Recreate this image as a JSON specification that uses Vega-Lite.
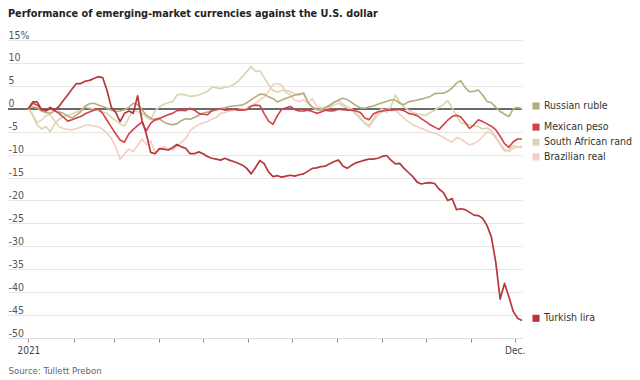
{
  "$schema": "https://vega.github.io/schema/vega-lite/v6.json",
  "width": 514,
  "height": 298,
  "autosize": {"type": "none"},
  "padding": {"left": 8, "top": 40, "right": 118, "bottom": 42},
  "background": "white",
  "title": {"text": "Performance of emerging-market currencies against the U.S. dollar", "anchor": "start", "frame": "group", "fontSize": 10.8, "fontWeight": "bold", "font": "DejaVu Sans Condensed, Lato, sans-serif", "color": "#222", "offset": 11},
  "config": {"view": {"stroke": null}, "font": "DejaVu Sans Condensed, Lato, sans-serif", "axisY": {"tickCount": 13}},
  "datasets": {
    "fx": [
      {"d": "2021-01-01", "ruble": 0, "peso": 0, "rand": 0, "real": 0, "lira": 0},
      {"d": "2021-01-04", "ruble": 0.4, "peso": 1.2, "rand": -1.5, "real": -1.2, "lira": 1.5},
      {"d": "2021-01-07", "ruble": 0.2, "peso": 0.8, "rand": -3.5, "real": -3, "lira": 1.5},
      {"d": "2021-01-10", "ruble": -0.5, "peso": 0, "rand": -4.4, "real": -2.5, "lira": -0.2},
      {"d": "2021-01-13", "ruble": -0.8, "peso": -0.5, "rand": -3.9, "real": -1.5, "lira": -0.3},
      {"d": "2021-01-16", "ruble": -1, "peso": 0, "rand": -5, "real": -1.3, "lira": 0.3},
      {"d": "2021-01-19", "ruble": -0.5, "peso": -0.4, "rand": -3.3, "real": -2.6, "lira": -0.3},
      {"d": "2021-01-22", "ruble": -0.7, "peso": -1, "rand": -2.3, "real": -3.9, "lira": 0.5},
      {"d": "2021-01-25", "ruble": -1, "peso": -1.8, "rand": -1.7, "real": -4.3, "lira": 1.8},
      {"d": "2021-01-28", "ruble": -1.6, "peso": -2.7, "rand": -1.4, "real": -4.5, "lira": 3},
      {"d": "2021-01-31", "ruble": -2, "peso": -2.4, "rand": -1.1, "real": -4.6, "lira": 4.3},
      {"d": "2021-02-03", "ruble": -1.4, "peso": -2, "rand": -0.7, "real": -4.3, "lira": 5.5},
      {"d": "2021-02-06", "ruble": -0.6, "peso": -1.7, "rand": -0.3, "real": -4, "lira": 5.5},
      {"d": "2021-02-09", "ruble": 0.6, "peso": -1.1, "rand": 0.4, "real": -3.6, "lira": 6},
      {"d": "2021-02-12", "ruble": 1.1, "peso": -0.7, "rand": 0.2, "real": -3.6, "lira": 6.2},
      {"d": "2021-02-15", "ruble": 1.2, "peso": -0.3, "rand": -0.1, "real": -3.8, "lira": 6.6},
      {"d": "2021-02-18", "ruble": 0.8, "peso": 0, "rand": -0.4, "real": -3.9, "lira": 7},
      {"d": "2021-02-21", "ruble": 0.5, "peso": -1, "rand": -0.7, "real": -4.5, "lira": 6.8},
      {"d": "2021-02-24", "ruble": 0.1, "peso": -2.5, "rand": -1, "real": -5.3, "lira": 4},
      {"d": "2021-02-27", "ruble": -0.3, "peso": -4, "rand": -1.8, "real": -6.5, "lira": 0.3},
      {"d": "2021-03-02", "ruble": -0.6, "peso": -5.5, "rand": -2.6, "real": -8.3, "lira": -0.8},
      {"d": "2021-03-05", "ruble": -0.5, "peso": -6.8, "rand": -3.3, "real": -11, "lira": -2.8},
      {"d": "2021-03-08", "ruble": -0.2, "peso": -7.3, "rand": -3.8, "real": -9.8, "lira": -1},
      {"d": "2021-03-11", "ruble": 0.3, "peso": -5.5, "rand": -2, "real": -8.8, "lira": -0.5},
      {"d": "2021-03-14", "ruble": 1.2, "peso": -4.5, "rand": -0.4, "real": -9.3, "lira": -1},
      {"d": "2021-03-17", "ruble": 0.9, "peso": -3.7, "rand": -0.6, "real": -8, "lira": 2.8},
      {"d": "2021-03-20", "ruble": -0.2, "peso": -2.9, "rand": -1, "real": -6.6, "lira": -2.5},
      {"d": "2021-03-23", "ruble": -1.4, "peso": -4.8, "rand": -1.8, "real": -7.8, "lira": -5.5},
      {"d": "2021-03-26", "ruble": -2, "peso": -3.2, "rand": -2.4, "real": -7, "lira": -9.5},
      {"d": "2021-03-29", "ruble": -2.6, "peso": -2.3, "rand": -0.4, "real": -9.5, "lira": -9.8},
      {"d": "2021-04-01", "ruble": -2.2, "peso": -2.1, "rand": 0.4, "real": -8.8, "lira": -8.7},
      {"d": "2021-04-04", "ruble": -2.9, "peso": -1.7, "rand": 1, "real": -8.3, "lira": -8.8},
      {"d": "2021-04-07", "ruble": -3.3, "peso": -1.3, "rand": 1.3, "real": -8.7, "lira": -9},
      {"d": "2021-04-10", "ruble": -3.5, "peso": -1, "rand": 1.5, "real": -9, "lira": -8.5},
      {"d": "2021-04-13", "ruble": -3.3, "peso": -0.4, "rand": 3, "real": -8.2, "lira": -7.8},
      {"d": "2021-04-16", "ruble": -2.6, "peso": -0.3, "rand": 3.2, "real": -7.3, "lira": -8.3},
      {"d": "2021-04-19", "ruble": -2.2, "peso": -0.4, "rand": 3, "real": -6.5, "lira": -8.6},
      {"d": "2021-04-22", "ruble": -2.3, "peso": 0.1, "rand": 2.7, "real": -4.8, "lira": -9.8},
      {"d": "2021-04-25", "ruble": -1.9, "peso": -0.3, "rand": 2.8, "real": -4, "lira": -9.8},
      {"d": "2021-04-28", "ruble": -1.4, "peso": -1, "rand": 3, "real": -3.5, "lira": -9.4},
      {"d": "2021-05-01", "ruble": -1, "peso": -1.2, "rand": 3.4, "real": -3.1, "lira": -9.8},
      {"d": "2021-05-04", "ruble": -0.7, "peso": -1.3, "rand": 3.8, "real": -2.8, "lira": -10.4},
      {"d": "2021-05-07", "ruble": -0.5, "peso": -0.4, "rand": 4.7, "real": -2.3, "lira": -10.8},
      {"d": "2021-05-10", "ruble": -0.3, "peso": -0.1, "rand": 4.6, "real": -1.9, "lira": -11},
      {"d": "2021-05-13", "ruble": 0, "peso": 0, "rand": 4.4, "real": -1, "lira": -11.2},
      {"d": "2021-05-16", "ruble": 0.2, "peso": -0.3, "rand": 4.7, "real": -0.8, "lira": -10.8},
      {"d": "2021-05-19", "ruble": 0.5, "peso": -0.2, "rand": 4.8, "real": -0.5, "lira": -11.2},
      {"d": "2021-05-22", "ruble": 0.6, "peso": -0.1, "rand": 5.3, "real": -0.3, "lira": -11.5},
      {"d": "2021-05-25", "ruble": 0.7, "peso": -0.3, "rand": 6, "real": -0.2, "lira": -11.9},
      {"d": "2021-05-28", "ruble": 0.8, "peso": -0.3, "rand": 7, "real": 0, "lira": -12.3},
      {"d": "2021-05-31", "ruble": 1.3, "peso": -0.2, "rand": 8.1, "real": 0.1, "lira": -13},
      {"d": "2021-06-03", "ruble": 2, "peso": 0.6, "rand": 9.2, "real": 0.6, "lira": -14.2},
      {"d": "2021-06-06", "ruble": 2.6, "peso": 0.8, "rand": 8.1, "real": 1.2, "lira": -12.8},
      {"d": "2021-06-09", "ruble": 3.2, "peso": 0.7, "rand": 8.3, "real": 1.9, "lira": -11.3},
      {"d": "2021-06-12", "ruble": 3.1, "peso": -1.1, "rand": 6.8, "real": 2.6, "lira": -12},
      {"d": "2021-06-15", "ruble": 2.6, "peso": -2.7, "rand": 5.2, "real": 3.8, "lira": -13.8},
      {"d": "2021-06-18", "ruble": 2.2, "peso": -3.4, "rand": 4, "real": 5.3, "lira": -14.8},
      {"d": "2021-06-21", "ruble": 1.5, "peso": -1.5, "rand": 3.6, "real": 5.5, "lira": -14.6},
      {"d": "2021-06-24", "ruble": 1.9, "peso": -0.1, "rand": 4, "real": 5.2, "lira": -14.9},
      {"d": "2021-06-27", "ruble": 2.3, "peso": 0.2, "rand": 4, "real": 3.5, "lira": -14.7},
      {"d": "2021-06-30", "ruble": 2.6, "peso": 0.5, "rand": 3.7, "real": 3, "lira": -14.5},
      {"d": "2021-07-03", "ruble": 3, "peso": -0.2, "rand": 3.2, "real": 1.8, "lira": -14.7},
      {"d": "2021-07-06", "ruble": 3.2, "peso": -0.5, "rand": 3, "real": 1.6, "lira": -14.4},
      {"d": "2021-07-09", "ruble": 3.4, "peso": -0.5, "rand": 3.4, "real": 1.9, "lira": -14.2},
      {"d": "2021-07-12", "ruble": 1.4, "peso": -0.3, "rand": 1.2, "real": 1.2, "lira": -13.6},
      {"d": "2021-07-15", "ruble": 0.4, "peso": -0.6, "rand": 0.3, "real": 2.2, "lira": -13},
      {"d": "2021-07-18", "ruble": -0.1, "peso": -1, "rand": -0.3, "real": 0.5, "lira": -12.9},
      {"d": "2021-07-21", "ruble": -0.3, "peso": -0.7, "rand": 0, "real": 0.3, "lira": -12.6},
      {"d": "2021-07-24", "ruble": 0.2, "peso": -0.3, "rand": 0.4, "real": 0.1, "lira": -12.5},
      {"d": "2021-07-27", "ruble": 0.7, "peso": -0.5, "rand": 0.9, "real": 0.3, "lira": -12},
      {"d": "2021-07-30", "ruble": 1.4, "peso": -0.4, "rand": 1.5, "real": 0.8, "lira": -11.5},
      {"d": "2021-08-02", "ruble": 1.9, "peso": -0.1, "rand": 1.8, "real": 1.2, "lira": -11.2},
      {"d": "2021-08-05", "ruble": 2.3, "peso": -0.2, "rand": 1, "real": 0.6, "lira": -12.5},
      {"d": "2021-08-08", "ruble": 2, "peso": -0.3, "rand": 0.4, "real": 0.2, "lira": -13},
      {"d": "2021-08-11", "ruble": 1.4, "peso": -0.3, "rand": 0, "real": -0.4, "lira": -12.3},
      {"d": "2021-08-14", "ruble": 0.7, "peso": -0.5, "rand": -1, "real": -1.2, "lira": -11.8},
      {"d": "2021-08-17", "ruble": 0.2, "peso": -0.8, "rand": -2, "real": -2.2, "lira": -11.5},
      {"d": "2021-08-20", "ruble": 0.1, "peso": -2, "rand": -3.2, "real": -3, "lira": -11.2},
      {"d": "2021-08-23", "ruble": 0.4, "peso": -2.4, "rand": -3.6, "real": -4, "lira": -11},
      {"d": "2021-08-26", "ruble": 0.6, "peso": -1.1, "rand": -2.2, "real": -2.5, "lira": -11},
      {"d": "2021-08-29", "ruble": 1, "peso": -0.7, "rand": -0.6, "real": -1.4, "lira": -10.8},
      {"d": "2021-09-01", "ruble": 1.3, "peso": -0.5, "rand": 0, "real": -0.7, "lira": -10.4},
      {"d": "2021-09-04", "ruble": 1.6, "peso": -0.3, "rand": -0.8, "real": -0.1, "lira": -10.2},
      {"d": "2021-09-07", "ruble": 1.9, "peso": -0.3, "rand": 0.5, "real": -0.4, "lira": -11.2},
      {"d": "2021-09-10", "ruble": 1.9, "peso": -0.2, "rand": 3, "real": -0.3, "lira": -12},
      {"d": "2021-09-13", "ruble": 1.2, "peso": -0.2, "rand": 1.5, "real": -1.2, "lira": -11.9},
      {"d": "2021-09-16", "ruble": 0.9, "peso": -0.4, "rand": 0.4, "real": -2.1, "lira": -13},
      {"d": "2021-09-19", "ruble": 1.5, "peso": -1, "rand": -0.3, "real": -2.8, "lira": -13.9},
      {"d": "2021-09-22", "ruble": 1.7, "peso": -1.2, "rand": -0.8, "real": -3.5, "lira": -14.8},
      {"d": "2021-09-25", "ruble": 1.9, "peso": -1.5, "rand": -1.1, "real": -3.9, "lira": -16},
      {"d": "2021-09-28", "ruble": 2.1, "peso": -2.2, "rand": -1.3, "real": -4.3, "lira": -16.4},
      {"d": "2021-10-01", "ruble": 2.4, "peso": -2.8, "rand": -1.4, "real": -4.7, "lira": -16.2},
      {"d": "2021-10-04", "ruble": 2.7, "peso": -3.5, "rand": -0.8, "real": -5.1, "lira": -16.1},
      {"d": "2021-10-07", "ruble": 3.3, "peso": -4, "rand": -0.3, "real": -5.3, "lira": -16.3},
      {"d": "2021-10-10", "ruble": 3.4, "peso": -4.5, "rand": 0.3, "real": -5.7, "lira": -17.5},
      {"d": "2021-10-13", "ruble": 3.4, "peso": -3.5, "rand": 0.9, "real": -6.2, "lira": -18.3},
      {"d": "2021-10-16", "ruble": 3.8, "peso": -2.5, "rand": 1.8, "real": -6.8, "lira": -20},
      {"d": "2021-10-19", "ruble": 4.5, "peso": -1.7, "rand": 0.2, "real": -7.3, "lira": -19.6},
      {"d": "2021-10-22", "ruble": 5.6, "peso": -1.4, "rand": -1.6, "real": -6.3, "lira": -22},
      {"d": "2021-10-25", "ruble": 6.1, "peso": -1.8, "rand": -3, "real": -6.6, "lira": -21.8},
      {"d": "2021-10-28", "ruble": 4.6, "peso": -3, "rand": -3.3, "real": -7.3, "lira": -22},
      {"d": "2021-10-31", "ruble": 3.7, "peso": -4.3, "rand": -3.5, "real": -7.9, "lira": -22.6},
      {"d": "2021-11-03", "ruble": 3.8, "peso": -3.5, "rand": -3.7, "real": -7.6, "lira": -23.2},
      {"d": "2021-11-06", "ruble": 4.1, "peso": -2.4, "rand": -3.9, "real": -7, "lira": -23.3},
      {"d": "2021-11-09", "ruble": 3, "peso": -2.8, "rand": -4.4, "real": -6.1, "lira": -23.9},
      {"d": "2021-11-12", "ruble": 1.6, "peso": -3.3, "rand": -4.2, "real": -5, "lira": -25.5},
      {"d": "2021-11-15", "ruble": 1.3, "peso": -3.8, "rand": -4.8, "real": -5.3, "lira": -28},
      {"d": "2021-11-18", "ruble": 0.3, "peso": -4.6, "rand": -6.1, "real": -6.4, "lira": -33.5},
      {"d": "2021-11-21", "ruble": -0.6, "peso": -6, "rand": -7.8, "real": -7.6, "lira": -41.5},
      {"d": "2021-11-24", "ruble": -1.2, "peso": -7.6, "rand": -9.2, "real": -8.8, "lira": -38.1},
      {"d": "2021-11-27", "ruble": -1.7, "peso": -8.4, "rand": -9, "real": -9.4, "lira": -41},
      {"d": "2021-11-30", "ruble": 0, "peso": -7.2, "rand": -8, "real": -8.6, "lira": -44.2},
      {"d": "2021-12-03", "ruble": 0.3, "peso": -6.6, "rand": -8.4, "real": -8.4, "lira": -45.7},
      {"d": "2021-12-06", "ruble": 0, "peso": -6.6, "rand": -8.3, "real": -8.2, "lira": -46.2}
    ],
    "legend": [
      {"key": "ruble", "label": "Russian ruble", "pos": 0.6},
      {"key": "peso", "label": "Mexican peso", "pos": -4.0},
      {"key": "rand", "label": "South African rand", "pos": -7.3},
      {"key": "real", "label": "Brazilian real", "pos": -10.5},
      {"key": "lira", "label": "Turkish lira", "pos": -45.7}
    ]
  },
  "layer": [
    {
      "data": {"name": "fx"},
      "mark": {"type": "rule", "color": "#6b6b6b", "strokeWidth": 1.5},
      "encoding": {
        "y": {
          "datum": 0, "type": "quantitative",
          "scale": {"domain": [-50, 15], "nice": false, "zero": false},
          "axis": {
            "tickCount": 13,
            "labelExpr": "datum.value == 15 ? '15%' : '' + datum.value",
            "labelOverlap": false,
            "grid": true,
            "gridColor": "#e6e6e6",
            "domain": false,
            "ticks": false,
            "tickSize": 0,
            "labelAlign": "left",
            "labelBaseline": "bottom",
            "labelPadding": 0,
            "labelColor": "#555555",
            "labelFontSize": 10.5,
            "title": null
          }
        }
      }
    },
    {
      "data": {"name": "fx"},
      "transform": [{"fold": ["real", "rand", "ruble", "peso", "lira"], "as": ["key", "value"]}],
      "mark": {"type": "line", "strokeJoin": "round"},
      "encoding": {
        "x": {
          "field": "d", "type": "temporal",
          "scale": {"type": "utc", "domain": [{"year": 2020, "month": 12, "date": 18, "utc": true}, {"year": 2021, "month": 12, "date": 6, "utc": true}]},
          "axis": {
            "tickCount": {"interval": "month", "step": 1},
            "labelExpr": "utcmonth(datum.value) == 0 ? '2021' : (utcmonth(datum.value) == 11 ? 'Dec.' : '')",
            "labelOverlap": false,
            "grid": false,
            "domainColor": "#dddddd",
            "tickColor": "#888888",
            "tickSize": 4,
            "labelColor": "#444444",
            "labelFontSize": 10,
            "labelPadding": 3,
            "labelFlush": false,
            "title": "Source: Tullett Prebon",
            "titleX": 0,
            "titleY": 32,
            "titleAlign": "left",
            "titleAnchor": "start",
            "titleBaseline": "middle",
            "titleFontWeight": "normal",
            "titleFontSize": 9.5,
            "titleColor": "#666666"
          }
        },
        "y": {
          "field": "value", "type": "quantitative",
          "scale": {"domain": [-50, 15], "nice": false, "zero": false},
          "axis": {
            "tickCount": 13,
            "labelExpr": "datum.value == 15 ? '15%' : '' + datum.value",
            "labelOverlap": false,
            "grid": true,
            "gridColor": "#e6e6e6",
            "domain": false,
            "ticks": false,
            "tickSize": 0,
            "labelAlign": "left",
            "labelBaseline": "bottom",
            "labelPadding": 0,
            "labelColor": "#555555",
            "labelFontSize": 10.5,
            "title": null
          }
        },
        "color": {
          "field": "key", "type": "nominal",
          "scale": {"domain": ["ruble", "peso", "rand", "real", "lira"], "range": ["#b3ad7a", "#d4404a", "#d9d6b2", "#f4cfc4", "#b8353a"]},
          "legend": null
        },
        "strokeWidth": {
          "field": "key", "type": "nominal",
          "scale": {"domain": ["ruble", "peso", "rand", "real", "lira"], "range": [1.6, 1.7, 1.6, 1.6, 1.9]},
          "legend": null
        }
      }
    },
    {
      "data": {"name": "legend"},
      "mark": {"type": "point", "shape": "square", "filled": true, "size": 50, "opacity": 1, "xOffset": 14},
      "encoding": {
        "x": {"datum": {"year": 2021, "month": 12, "date": 6, "utc": true}, "type": "temporal"},
        "y": {"field": "pos", "type": "quantitative"},
        "color": {"field": "key", "type": "nominal", "legend": null}
      }
    },
    {
      "data": {"name": "legend"},
      "mark": {"type": "text", "align": "left", "baseline": "middle", "xOffset": 22, "fontSize": 10.5, "color": "#333333"},
      "encoding": {
        "x": {"datum": {"year": 2021, "month": 12, "date": 6, "utc": true}, "type": "temporal"},
        "y": {"field": "pos", "type": "quantitative"},
        "text": {"field": "label"}
      }
    }
  ]
}
